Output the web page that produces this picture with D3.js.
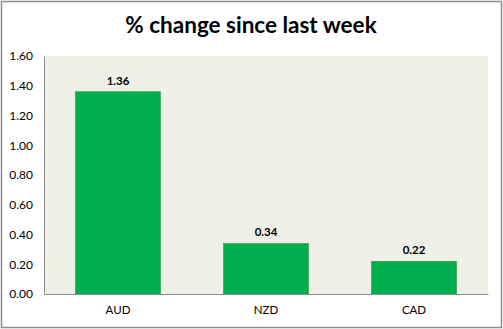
<!DOCTYPE html>
<html>
<head>
<meta charset="utf-8">
<script src="https://cdn.jsdelivr.net/npm/d3@7"></script>
<style>
  html, body { margin: 0; padding: 0; background: #fff; }
  svg { display: block; }
</style>
</head>
<body>
<svg id="chart" width="503" height="329"></svg>
<script>
// Weekly percentage change by currency
const categories = ["AUD", "NZD", "CAD"];
const values = [1.36, 0.34, 0.22];
const tickValues = [0, 0.2, 0.4, 0.6, 0.8, 1.0, 1.2, 1.4, 1.6];

const W = 503, H = 329;
const margin = { top: 56, right: 15, bottom: 35, left: 44 };
const svg = d3.select("#chart");
const font = "Lato, 'Open Sans', sans-serif";

// Outer chart border
svg.append("rect")
  .attr("x", 1.5).attr("y", 1.5)
  .attr("width", W - 3).attr("height", H - 3)
  .attr("fill", "#fff")
  .attr("stroke", "#8c8c8c").attr("stroke-width", 1.5);

const x = d3.scaleBand()
  .domain(categories)
  .range([margin.left, W - margin.right])
  .paddingInner(0.425)
  .paddingOuter(0.2125);

const y = d3.scaleLinear()
  .domain([0, 1.6])
  .range([H - margin.bottom, margin.top]);

// Plot area background
svg.append("rect")
  .attr("x", margin.left).attr("y", margin.top)
  .attr("width", W - margin.right - margin.left)
  .attr("height", H - margin.bottom - margin.top)
  .attr("fill", "#eff0e8");

// Title
svg.append("text")
  .attr("x", 251).attr("y", 33)
  .attr("text-anchor", "middle")
  .attr("font-family", font)
  .attr("font-weight", "bold")
  .attr("font-size", 22.5)
  .attr("fill", "#000")
  .text("% change since last week");

// Bars
svg.append("g").selectAll("rect")
  .data(values)
  .join("rect")
  .attr("x", (d, i) => x(categories[i]))
  .attr("y", d => y(d))
  .attr("width", x.bandwidth())
  .attr("height", d => y(0) - y(d))
  .attr("fill", "#00ae4f")
  .attr("stroke", "#3d9a4c")
  .attr("stroke-width", 0.6);

// Value labels
svg.append("g").selectAll("text")
  .data(values)
  .join("text")
  .attr("x", (d, i) => x(categories[i]) + x.bandwidth() / 2)
  .attr("y", d => y(d) - 7)
  .attr("text-anchor", "middle")
  .attr("font-family", font)
  .attr("font-weight", "bold")
  .attr("font-size", 11.5)
  .attr("fill", "#000")
  .text(d => d.toFixed(2));

// Y axis
const yAxis = svg.append("g")
  .attr("transform", `translate(${margin.left},0)`)
  .call(d3.axisLeft(y).tickValues(tickValues).tickFormat(d3.format(".2f")).tickSize(0).tickPadding(11));
yAxis.select(".domain").attr("stroke", "#8c8c8c");
yAxis.selectAll("text")
  .attr("font-family", font)
  .attr("font-size", 12)
  .attr("fill", "#000");

// X axis
const xAxis = svg.append("g")
  .attr("transform", `translate(0,${H - margin.bottom})`)
  .call(d3.axisBottom(x).tickSize(0).tickPadding(12));
xAxis.select(".domain").attr("stroke", "#8c8c8c");
xAxis.selectAll("text")
  .attr("font-family", font)
  .attr("font-size", 11.5)
  .attr("fill", "#000");
</script>
</body>
</html>
